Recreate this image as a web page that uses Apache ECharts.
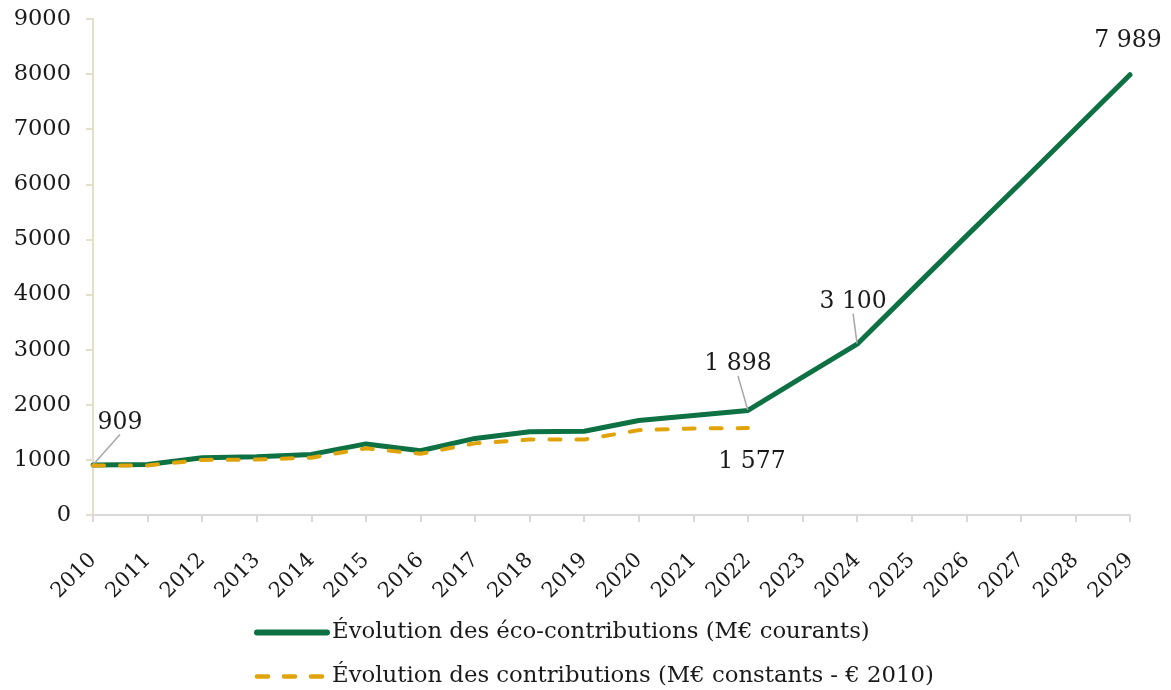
<!DOCTYPE html>
<html>
<head>
<meta charset="utf-8">
<script src="https://cdn.jsdelivr.net/npm/echarts@6/dist/echarts.min.js"></script>
<style>
  html, body { margin: 0; padding: 0; background: #fff; }
  #chart { width: 1171px; height: 690px; }
</style>
</head>
<body>
<div id="chart"></div>
<script>
// years on the x axis
const years = ['2010', '2011', '2012', '2013', '2014', '2015', '2016', '2017', '2018', '2019',
  '2020', '2021', '2022', '2023', '2024', '2025', '2026', '2027', '2028', '2029'];
// M€ courants
const ecoCourants = [909, 915, 1040, 1055, 1100, 1290, 1165, 1390, 1510, 1520,
  1715, 1805, 1898, 2500, 3100, 4080, 5060, 6030, 7010, 7989];
// M€ constants (€ 2010), stops at 2022
const contribConstants = [900, 900, 1000, 1005, 1040, 1210, 1110, 1300, 1370, 1370,
  1540, 1570, 1577];
const yTicks = [0, 1000, 2000, 3000, 4000, 5000, 6000, 7000, 8000, 9000];
const seriesNames = ['Évolution des éco-contributions (M€ courants)',
  'Évolution des contributions (M€ constants - € 2010)'];

// which points get a value label (index -> text)
const labelledGreen = { 0: '909', 12: '1 898', 14: '3 100', 19: '7 989' };
const labelledGold = { 12: '1 577' };

const FONT = 'DejaVu Serif';
const TXT = '#1a1a1a';
const GREEN = '#0e7143';
const GOLD = '#e0a30a';
const DASH = [11, 16];

// label shifts, seriesIndex -> dataIndex -> [dx, dy]
const shift = {
  0: { 0: [27, -25], 12: [-10, -29], 14: [-4, -25], 19: [-2, -16] },
  1: { 12: [4, 16] }
};

var dom = document.getElementById('chart');
var myChart = echarts.init(dom);

function mkData(vals, labelled, pos, leaders) {
  return vals.map(function (v, i) {
    if (labelled[i] === undefined) return v;
    return {
      value: v,
      symbol: 'circle',
      symbolSize: 1,
      label: { show: true, position: pos, formatter: labelled[i] },
      labelLine: { show: leaders.indexOf(i) >= 0 }
    };
  });
}

var option = {
  animation: false,
  grid: { left: 93, right: 41, top: 19, bottom: 175, containLabel: false, outerBoundsMode: 'none' },
  legend: {
    orient: 'vertical',
    left: 254,
    top: 621,
    height: 80,
    padding: 0,
    itemWidth: 70,
    itemHeight: 14,
    itemGap: 21,
    textStyle: { fontFamily: FONT, fontSize: 22.8, color: TXT },
    data: [
      { name: seriesNames[0], itemStyle: { opacity: 0 }, lineStyle: { color: GREEN, width: 6, cap: 'round', opacity: 1 } },
      { name: seriesNames[1], itemStyle: { opacity: 0 }, lineStyle: { color: GOLD, width: 4.5, type: DASH, cap: 'round', opacity: 1 } }
    ]
  },
  xAxis: {
    type: 'category',
    data: years,
    boundaryGap: false,
    axisLine: { lineStyle: { color: '#d9d9d9', width: 2 } },
    axisTick: { show: true, length: 7, interval: 0, lineStyle: { color: '#d9d9d9', width: 2 } },
    axisLabel: { interval: 0, rotate: 45, fontFamily: FONT, fontSize: 21, color: TXT, margin: 42 },
    splitLine: { show: false }
  },
  yAxis: {
    type: 'value',
    min: yTicks[0],
    max: yTicks[yTicks.length - 1],
    interval: 1000,
    axisLine: { show: true, lineStyle: { color: '#e3dfca', width: 2 } },
    axisTick: { show: true, length: 7, lineStyle: { color: '#e3dfca', width: 2 } },
    axisLabel: { fontFamily: FONT, fontSize: 22.5, color: TXT, margin: 22,
      formatter: function (v) { return String(v); } },
    splitLine: { show: false }
  },
  series: [
    {
      name: seriesNames[0],
      type: 'line',
      data: mkData(ecoCourants, labelledGreen, 'top', [0, 12, 14]),
      symbol: 'none',
      showSymbol: true,
      z: 3,
      lineStyle: { color: GREEN, width: 5, cap: 'round', join: 'round' },
      itemStyle: { color: GREEN },
      label: { fontFamily: FONT, fontSize: 23.5, color: TXT, distance: 5 },
      labelLine: { show: false, length2: 0, lineStyle: { color: '#a6a6a6', width: 1.5 } },
      labelLayout: function (p) {
        var s = shift[0][p.dataIndex];
        return s ? { dx: s[0], dy: s[1] } : {};
      }
    },
    {
      name: seriesNames[1],
      type: 'line',
      data: mkData(contribConstants, labelledGold, 'bottom', []),
      symbol: 'none',
      showSymbol: true,
      z: 4,
      lineStyle: { color: GOLD, width: 4, type: DASH, cap: 'round' },
      itemStyle: { color: GOLD },
      label: { fontFamily: FONT, fontSize: 23.5, color: TXT, distance: 5 },
      labelLine: { show: false },
      labelLayout: function (p) {
        var s = shift[1][p.dataIndex];
        return s ? { dx: s[0], dy: s[1] } : {};
      }
    }
  ]
};

myChart.setOption(option);
</script>
</body>
</html>
